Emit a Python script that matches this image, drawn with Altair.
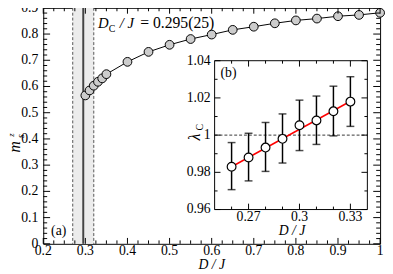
import altair as alt
import pandas as pd

# ---------------- data ----------------
# main panel (a)
d_main = [0.30, 0.31, 0.32, 0.33, 0.34, 0.35, 0.40, 0.45, 0.50, 0.55,
          0.60, 0.65, 0.70, 0.75, 0.80, 0.85, 0.90, 0.95, 1.00]
m_main = [0.566, 0.585, 0.603, 0.618, 0.631, 0.647, 0.694, 0.732, 0.759, 0.781,
          0.798, 0.816, 0.828, 0.841, 0.852, 0.859, 0.868, 0.873, 0.881]
dc_val = [0.295]
dc_lo = [0.27]
dc_hi = [0.32]

# inset (b)
d_in = [0.26, 0.27, 0.28, 0.29, 0.30, 0.31, 0.32, 0.33]
lam = [0.983, 0.988, 0.9933, 0.998, 1.0053, 1.0079, 1.0128, 1.018]
lam_hi = [0.996, 1.001, 1.0068, 1.0114, 1.0188, 1.021, 1.0263, 1.0314]
lam_lo = [0.9707, 0.9754, 0.9805, 0.985, 0.9917, 0.995, 0.9996, 1.0047]
fit_d = [0.26, 0.33]
fit_lam = [0.983, 1.0182]

# tick values and tick labels
main_x_major = [0.2, 0.3, 0.4, 0.5, 0.6, 0.7, 0.8, 0.9, 1.0]
main_x_labels = ["0.2", "0.3", "0.4", "0.5", "0.6", "0.7", "0.8", "0.9", "1"]
main_x_minor = [0.225, 0.25, 0.275, 0.325, 0.35, 0.375, 0.425, 0.45, 0.475,
                0.525, 0.55, 0.575, 0.625, 0.65, 0.675, 0.725, 0.75, 0.775,
                0.825, 0.85, 0.875, 0.925, 0.95, 0.975]
main_y_major = [0.0, 0.1, 0.2, 0.3, 0.4, 0.5, 0.6, 0.7, 0.8, 0.9]
main_y_labels = ["0", "0.1", "0.2", "0.3", "0.4", "0.5", "0.6", "0.7", "0.8", "0.9"]
main_y_minor = [0.02, 0.04, 0.06, 0.08, 0.12, 0.14, 0.16, 0.18, 0.22, 0.24,
                0.26, 0.28, 0.32, 0.34, 0.36, 0.38, 0.42, 0.44, 0.46, 0.48,
                0.52, 0.54, 0.56, 0.58, 0.62, 0.64, 0.66, 0.68, 0.72, 0.74,
                0.76, 0.78, 0.82, 0.84, 0.86, 0.88]
in_x_major = [0.27, 0.30, 0.33]
in_x_labels = ["0.27", "0.3", "0.33"]
in_x_minor = [0.26, 0.28, 0.29, 0.31, 0.32]
in_y_major = [0.96, 0.98, 1.00, 1.02, 1.04]
in_y_labels = ["0.96", "0.98", "1", "1.02", "1.04"]
in_y_minor = [0.97, 0.99, 1.01, 1.03]
in_x_dom = [0.25, 0.34]
in_y_dom = [0.96, 1.04]

# ---------------- layout ----------------
W, H = 344, 241
IX0, IX1 = 175, 331
IYT, IYB = 54, 206
FONT = "Liberation Serif"

xs_main = alt.Scale(domain=[0.2, 1.0], nice=False, zero=False)
ys_main = alt.Scale(domain=[0.0, 0.9], nice=False, zero=False)
xs_in = alt.Scale(domain=in_x_dom, range=[IX0, IX1], nice=False, zero=False)
ys_in = alt.Scale(domain=in_y_dom, range=[IYB, IYT], nice=False, zero=False)


def tick_layers(vals, ch, scale, left, right, top, bottom, length):
    df = pd.DataFrame({"v": vals})
    out = []
    base = alt.Chart(df).mark_rule(color="black", strokeWidth=1)
    if ch == "x":
        enc = alt.X("v:Q", scale=scale, axis=None)
        out.append(base.encode(x=enc, y=alt.value(bottom), y2=alt.value(bottom - length)))
        out.append(base.encode(x=enc, y=alt.value(top), y2=alt.value(top + length)))
    else:
        enc = alt.Y("v:Q", scale=scale, axis=None)
        out.append(base.encode(y=enc, x=alt.value(left), x2=alt.value(left + length)))
        out.append(base.encode(y=enc, x=alt.value(right), x2=alt.value(right - length)))
    return out


def tick_labels(vals, labels, ch, scale, pos):
    df = pd.DataFrame({"v": vals, "t": labels})
    if ch == "x":
        return alt.Chart(df).mark_text(
            font=FONT, fontSize=14, color="black", align="center", baseline="alphabetic"
        ).encode(x=alt.X("v:Q", scale=scale, axis=None), y=alt.value(pos), text="t:N")
    return alt.Chart(df).mark_text(
        font=FONT, fontSize=14, color="black", align="right", baseline="middle"
    ).encode(y=alt.Y("v:Q", scale=scale, axis=None), x=alt.value(pos), text="t:N")


def label(txt, x, y, size=14, style="normal", angle=0, align="left", baseline="alphabetic"):
    return alt.Chart(pd.DataFrame({"t": [txt]})).mark_text(
        font=FONT, fontSize=size, fontStyle=style, color="black",
        align=align, baseline=baseline, angle=angle
    ).encode(x=alt.value(x), y=alt.value(y), text="t:N")


# ---------------- main panel ----------------
band_df = pd.DataFrame({"lo": dc_lo, "hi": dc_hi})
band = alt.Chart(band_df).mark_rect(color="#ececec").encode(
    x=alt.X("lo:Q", scale=xs_main, axis=None), x2="hi:Q",
    y=alt.value(0), y2=alt.value(H))
lo_rule = alt.Chart(pd.DataFrame({"v": dc_lo + dc_hi})).mark_rule(
    color="#555555", strokeWidth=1, strokeDash=[3, 2]).encode(
    x=alt.X("v:Q", scale=xs_main, axis=None))
dc_rule = alt.Chart(pd.DataFrame({"v": dc_val})).mark_rule(
    color="#444444", strokeWidth=2).encode(
    x=alt.X("v:Q", scale=xs_main, axis=None))

main_df = pd.DataFrame({"d": d_main, "m": m_main})
main_line = alt.Chart(main_df).mark_line(color="black", strokeWidth=1).encode(
    x=alt.X("d:Q", scale=xs_main, axis=None), y=alt.Y("m:Q", scale=ys_main, axis=None))
main_pts = alt.Chart(main_df).mark_circle(
    size=80, color="#cccccc", stroke="black", strokeWidth=1, opacity=1).encode(
    x=alt.X("d:Q", scale=xs_main, axis=None), y=alt.Y("m:Q", scale=ys_main, axis=None))

main_ticks = []
main_ticks += tick_layers(main_x_major, "x", xs_main, 0, W, 0, H, 6)
main_ticks += tick_layers(main_x_minor, "x", xs_main, 0, W, 0, H, 3.5)
main_ticks += tick_layers(main_y_major, "y", ys_main, 0, W, 0, H, 7)
main_ticks += tick_layers(main_y_minor, "y", ys_main, 0, W, 0, H, 4)
main_ticks.append(tick_labels(main_x_major, main_x_labels, "x", xs_main, H + 11))
main_ticks.append(tick_labels(main_y_major, main_y_labels, "y", ys_main, -5))

main_text = [
    label("D", 56, 21, 15, "italic"),
    label("C", 67, 25, 10),
    label("/ J", 78, 21, 15, "italic"),
    label("= 0.295(25)", 99, 21, 16),
    label("(a)", 8, 232, 14),
    label("D / J", W / 2, H + 26, 14, "italic", 0, "center"),
    label("m", -29, 142, 16, "italic", 270, "center", "middle"),
    label("s", -23, 131, 10, "italic", 270, "center", "middle"),
    label("z", -33, 130, 9, "italic", 270, "center", "middle"),
]

main_layer = alt.layer(band, lo_rule, dc_rule, main_line, main_pts, *main_ticks, *main_text)

# ---------------- inset ----------------
box_df = pd.DataFrame({"x0": [in_x_dom[0]], "x1": [in_x_dom[1]],
                       "y0": [in_y_dom[0]], "y1": [in_y_dom[1]]})
box = alt.Chart(box_df).mark_rect(fill="white", stroke="black", strokeWidth=1).encode(
    x=alt.X("x0:Q", scale=xs_in, axis=None), x2="x1:Q",
    y=alt.Y("y0:Q", scale=ys_in, axis=None), y2="y1:Q")

one_df = pd.DataFrame({"y": [1.0], "x0": [in_x_dom[0]], "x1": [in_x_dom[1]]})
one_rule = alt.Chart(one_df).mark_rule(color="black", strokeWidth=0.8, strokeDash=[3, 2]).encode(
    x=alt.X("x0:Q", scale=xs_in, axis=None), x2="x1:Q",
    y=alt.Y("y:Q", scale=ys_in, axis=None))

fit_df = pd.DataFrame({"d": fit_d, "l": fit_lam})
fit_line = alt.Chart(fit_df).mark_line(color="#ff0000", strokeWidth=1.5).encode(
    x=alt.X("d:Q", scale=xs_in, axis=None), y=alt.Y("l:Q", scale=ys_in, axis=None))

in_df = pd.DataFrame({"d": d_in, "l": lam, "hi": lam_hi, "lo": lam_lo})
xin = alt.X("d:Q", scale=xs_in, axis=None)
err = alt.Chart(in_df).mark_rule(color="black", strokeWidth=1.5).encode(
    x=xin, y=alt.Y("lo:Q", scale=ys_in, axis=None), y2="hi:Q")
cap_hi = alt.Chart(in_df).mark_tick(orient="horizontal", size=8, thickness=1.5, color="black").encode(
    x=xin, y=alt.Y("hi:Q", scale=ys_in, axis=None))
cap_lo = alt.Chart(in_df).mark_tick(orient="horizontal", size=8, thickness=1.5, color="black").encode(
    x=xin, y=alt.Y("lo:Q", scale=ys_in, axis=None))
in_pts = alt.Chart(in_df).mark_circle(
    size=80, color="white", stroke="black", strokeWidth=1.2, opacity=1).encode(
    x=xin, y=alt.Y("l:Q", scale=ys_in, axis=None))

in_ticks = []
in_ticks += tick_layers(in_x_major, "x", xs_in, IX0, IX1, IYT, IYB, 6)
in_ticks += tick_layers(in_x_minor, "x", xs_in, IX0, IX1, IYT, IYB, 3)
in_ticks += tick_layers(in_y_major, "y", ys_in, IX0, IX1, IYT, IYB, 6)
in_ticks += tick_layers(in_y_minor, "y", ys_in, IX0, IX1, IYT, IYB, 3)
in_ticks.append(tick_labels(in_x_major, in_x_labels, "x", xs_in, IYB + 12))
in_ticks.append(tick_labels(in_y_major, in_y_labels, "y", ys_in, IX0 - 4))

in_text = [
    label("(b)", 181, 71, 14),
    label("D / J", 254, 232, 14, "italic", 0, "center"),
    label("λ", 155, 132, 16, "italic", 270, "center", "middle"),
    label("C", 160, 122, 10, "normal", 270, "center", "middle"),
]

inset_layer = alt.layer(box, one_rule, fit_line, err, cap_hi, cap_lo, in_pts, *in_ticks, *in_text)

chart = alt.layer(main_layer, inset_layer).resolve_scale(
    x="independent", y="independent"
).properties(
    width=W, height=H, autosize="none",
    padding={"left": 36, "top": -3, "right": 5, "bottom": 28}
).configure_view(
    stroke="black", strokeWidth=1
)

chart.save("out.html", embed_options={"renderer": "svg", "actions": False})
